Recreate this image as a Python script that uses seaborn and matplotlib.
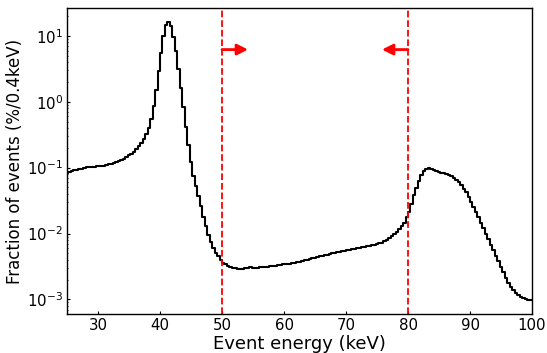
import numpy as np
import pandas as pd
import matplotlib
matplotlib.use("Agg")
import matplotlib.pyplot as plt
import seaborn as sns

# fraction of events per 0.4 keV bin (%), bins centred at 25.0, 25.4, ... 99.8 keV
bin_width = 0.4
first_center = 25.0
fraction = [
    0.084, 0.086, 0.089, 0.091, 0.093, 0.095, 0.097, 0.099, 0.101, 0.102,
    0.103, 0.104, 0.105, 0.106, 0.106, 0.107, 0.109, 0.112, 0.115, 0.119,
    0.122, 0.126, 0.131, 0.137, 0.145, 0.153, 0.163, 0.175, 0.19, 0.21,
    0.235, 0.27, 0.32, 0.40, 0.55, 0.85, 1.5, 2.9, 5.5, 10.0,
    14.5, 16.3, 14.0, 9.5, 5.8, 3.1, 1.6, 0.82, 0.42, 0.22,
    0.12, 0.075, 0.052, 0.037, 0.026, 0.018, 0.0128, 0.0095, 0.0074, 0.006,
    0.0051, 0.0045, 0.0040, 0.0036, 0.0034, 0.0032, 0.0031, 0.0030, 0.00295, 0.0029,
    0.0029, 0.0029, 0.00295, 0.0030, 0.00305, 0.0030, 0.00302, 0.00303, 0.00305, 0.0031,
    0.00312, 0.00315, 0.00318, 0.0032, 0.00325, 0.0033, 0.00335, 0.0034, 0.00343, 0.00347,
    0.0035, 0.00355, 0.0036, 0.00365, 0.0037, 0.0038, 0.0039, 0.0040, 0.0041, 0.0042,
    0.0043, 0.0044, 0.0045, 0.0046, 0.0047, 0.0048, 0.0049, 0.0050, 0.0051, 0.0052,
    0.0053, 0.0054, 0.0055, 0.0056, 0.0057, 0.0058, 0.0059, 0.0060, 0.0061, 0.0062,
    0.0063, 0.0064, 0.0065, 0.0066, 0.0067, 0.0069, 0.0071, 0.0073, 0.0076, 0.0080,
    0.0085, 0.0091, 0.0098, 0.0106, 0.0116, 0.0128, 0.0145, 0.0175, 0.021, 0.028,
    0.038, 0.049, 0.062, 0.077, 0.089, 0.096, 0.098, 0.096, 0.092, 0.089,
    0.086, 0.084, 0.082, 0.080, 0.077, 0.074, 0.070, 0.065, 0.060, 0.054,
    0.048, 0.042, 0.036, 0.030, 0.025, 0.021, 0.0175, 0.0145, 0.012, 0.0099,
    0.0082, 0.0068, 0.0056, 0.0046, 0.0038, 0.0031, 0.0026, 0.0021, 0.0018, 0.00155,
    0.00137, 0.00124, 0.00115, 0.00108, 0.00104, 0.00101, 0.00099, 0.00097,
]

# energy window cuts (keV) and where the arrows end
cut_low = 50
cut_high = 80
arrow_low_end = 54.2
arrow_high_end = 75.8
arrow_level = 6.2

centers = first_center + bin_width * np.arange(len(fraction))
edges = np.append(centers - bin_width / 2, centers[-1] + bin_width / 2)
df = pd.DataFrame({"energy": centers, "fraction": fraction})

sns.set_style("ticks", {"text.color": "black", "axes.labelcolor": "black",
                        "xtick.color": "black", "ytick.color": "black",
                        "axes.edgecolor": "black"})
fig = plt.figure(figsize=(5.47, 3.53), dpi=100)
ax = fig.add_axes([0.1225, 0.1105, 0.8501, 0.8668])

sns.histplot(data=df, x="energy", weights="fraction", bins=list(edges),
             element="step", fill=False, color="black", linewidth=1.5, ax=ax)
ax.set_yscale("log")

ax.axvline(cut_low, color="red", linestyle="--", linewidth=1.3)
ax.axvline(cut_high, color="red", linestyle="--", linewidth=1.3)
ax.annotate("", xy=(arrow_low_end, arrow_level), xytext=(cut_low, arrow_level),
            arrowprops=dict(arrowstyle="-|>", color="red", lw=2, mutation_scale=16,
                            shrinkA=0, shrinkB=0))
ax.annotate("", xy=(arrow_high_end, arrow_level), xytext=(cut_high, arrow_level),
            arrowprops=dict(arrowstyle="-|>", color="red", lw=2, mutation_scale=16,
                            shrinkA=0, shrinkB=0))

ax.set_xlim(25, 100)
ax.set_ylim(6e-4, 26.5)
ax.set_xlabel("Event energy (keV)", fontsize=13, labelpad=1)
ax.set_ylabel("Fraction of events (%/0.4keV)", fontsize=12, labelpad=2)
ax.tick_params(which="major", direction="in", length=2, width=0.8, pad=3,
               labelsize=10.8, colors="black")
ax.tick_params(which="minor", direction="in", length=1, width=0.6)
for s in ax.spines.values():
    s.set_color("black")
    s.set_linewidth(1.0)

fig.savefig("out.png", dpi=100)
